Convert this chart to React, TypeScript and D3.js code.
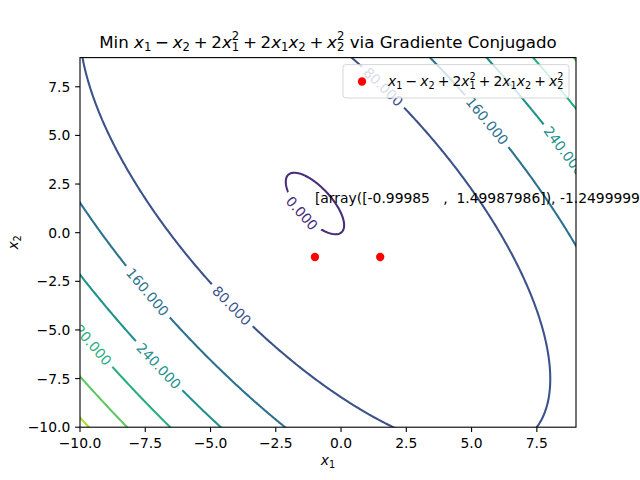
import React, { useMemo } from 'react';
import * as d3 from 'd3';

// ---------- data ----------
const X_DOMAIN: [number, number] = [-10, 9];
const Y_DOMAIN: [number, number] = [-10, 9];
const LEVELS = [0, 80, 160, 240, 320, 400, 480];
const COLOR_DOMAIN: [number, number] = [-80, 560];
const X_TICKS = [-10, -7.5, -5, -2.5, 0, 2.5, 5, 7.5];
const Y_TICKS = [-10, -7.5, -5, -2.5, 0, 2.5, 5, 7.5];
const OPT_X = [-0.99985, 1.49987986];
const OPT_Y = [-1.2499999, -1.2499999];
const ANNOT_X = -0.99985;
const ANNOT_Y = 1.49987986;
const ANNOTATION = '[array([-0.99985   ,  1.49987986]), -1.2499999999999996]';
const LABEL_LEVELS = [0, 80, 80, 160, 160, 240, 240, 320];
const LABEL_X = [-1.46, 1.68, -4.14, 5.59, -7.32, 8.58, -7.01, -9.7];
const LABEL_Y = [1.06, 7.59, -3.72, 5.74, -2.95, 4.2, -6.9, -5.67];

const objective = (x1: number, x2: number) => x1 - x2 + 2 * x1 * x1 + 2 * x1 * x2 + x2 * x2;

// ---------- layout ----------
const W = 640, H = 480;
const L = 80, R = 576, T = 57.6, B = 427.2;
const FS = 13.89;
const FONT = 'DejaVu Sans';

type Seg = { t?: string; it?: boolean; sub?: string; sup?: string; op?: string };

const FORMULA: Seg[] = [
  { t: 'x', it: true, sub: '1' },
  { op: '−' },
  { t: 'x', it: true, sub: '2' },
  { op: '+' },
  { t: '2' },
  { t: 'x', it: true, sub: '1', sup: '2' },
  { op: '+' },
  { t: '2' },
  { t: 'x', it: true, sub: '1' },
  { t: 'x', it: true, sub: '2' },
  { op: '+' },
  { t: 'x', it: true, sub: '2', sup: '2' },
];

function mathTspans(segs: Seg[], fs: number, keyp: string) {
  const out: React.ReactNode[] = [];
  let shift = 0;
  let pendingDx = 0;
  const ms = 0.222 * fs;
  segs.forEach((s, i) => {
    if (s.op) {
      out.push(
        <tspan key={`${keyp}o${i}`} dx={ms + pendingDx} dy={-shift} fontStyle="normal" fontSize={fs}>
          {s.op}
        </tspan>
      );
      shift = 0;
      pendingDx = ms;
      return;
    }
    out.push(
      <tspan key={`${keyp}b${i}`} dx={pendingDx} dy={-shift} fontStyle={s.it ? 'italic' : 'normal'} fontSize={fs}>
        {s.t}
      </tspan>
    );
    pendingDx = 0;
    shift = 0;
    if (s.sub) {
      const d = 0.2 * fs;
      out.push(
        <tspan key={`${keyp}s${i}`} dy={d - shift} fontSize={0.7 * fs} fontStyle="normal">
          {s.sub}
        </tspan>
      );
      shift = d;
    }
    if (s.sup) {
      const d = -0.42 * fs;
      const back = s.sub ? -0.636 * 0.7 * fs * s.sub.length : 0;
      out.push(
        <tspan key={`${keyp}p${i}`} dx={back} dy={d - shift} fontSize={0.7 * fs} fontStyle="normal">
          {s.sup}
        </tspan>
      );
      shift = d;
    }
  });
  return { nodes: out, shift };
}

export default function App() {
  const sx = d3.scaleLinear().domain(X_DOMAIN).range([L, R]);
  const sy = d3.scaleLinear().domain(Y_DOMAIN).range([B, T]);
  const color = (v: number) => d3.interpolateViridis((v - COLOR_DOMAIN[0]) / (COLOR_DOMAIN[1] - COLOR_DOMAIN[0]));

  const { paths, labels } = useMemo(() => {
    const step = 0.05;
    const x0 = X_DOMAIN[0] - 0.25;
    const y0 = Y_DOMAIN[0] - 0.25;
    const n = Math.round((X_DOMAIN[1] + 0.25 - x0) / step) + 1;
    const m = Math.round((Y_DOMAIN[1] + 0.25 - y0) / step) + 1;
    const values = new Array(n * m);
    for (let j = 0; j < m; j++) {
      for (let i = 0; i < n; i++) {
        values[j * n + i] = objective(x0 + i * step, y0 + j * step);
      }
    }
    const contours = d3.contours().size([n, m]).thresholds(LEVELS)(values);
    const toPx = (c: number[]) => [sx(x0 + (c[0] - 0.5) * step), sy(y0 + (c[1] - 0.5) * step)];
    const proj = d3.geoTransform({
      point(x: number, y: number) {
        const p = toPx([x, y]);
        (this as any).stream.point(p[0], p[1]);
      },
    });
    const gp = d3.geoPath(proj);
    const ringsByLevel = new Map<number, number[][][]>();
    const paths = contours.map((c) => {
      const rings: number[][][] = [];
      c.coordinates.forEach((poly) => poly.forEach((ring) => rings.push(ring.map(toPx))));
      ringsByLevel.set(c.value, rings);
      return { level: c.value, d: gp(c as any) || '' };
    });

    const labels = LABEL_LEVELS.map((lev, k) => {
      const ax = sx(LABEL_X[k]);
      const ay = sy(LABEL_Y[k]);
      const rings = ringsByLevel.get(lev) || [];
      let best = { d: Infinity, r: -1, i: -1 };
      rings.forEach((ring, r) => {
        ring.forEach((p, i) => {
          if (p[0] < L - 30 || p[0] > R + 30 || p[1] < T - 30 || p[1] > B + 30) return;
          const d = (p[0] - ax) ** 2 + (p[1] - ay) ** 2;
          if (d < best.d) best = { d, r, i };
        });
      });
      const ring = rings[best.r];
      const len = ring.length - 1;
      const p = ring[best.i];
      let a = best.i, b = best.i;
      for (let s = 0; s < len; s++) {
        a = (a - 1 + len) % len;
        const q = ring[a];
        if (Math.hypot(q[0] - p[0], q[1] - p[1]) > 10) break;
      }
      for (let s = 0; s < len; s++) {
        b = (b + 1) % len;
        const q = ring[b];
        if (Math.hypot(q[0] - p[0], q[1] - p[1]) > 10) break;
      }
      let ang = (Math.atan2(ring[b][1] - ring[a][1], ring[b][0] - ring[a][0]) * 180) / Math.PI;
      if (ang > 90) ang -= 180;
      if (ang <= -90) ang += 180;
      const text = d3.format('.3f')(lev);
      const digits = text.replace(/[^0-9]/g, '').length;
      const w = FS * (0.636 * digits + 0.318);
      return { lev, x: p[0], y: p[1], ang, text, w };
    });
    return { paths, labels };
  }, []);

  const tickFmt = d3.format('.1f');
  const title = mathTspans(FORMULA, 16.67, 'ti');

  return (
    <svg width={W} height={H} style={{ position: 'absolute', left: 0, top: 0, background: '#fff' }} fontFamily={FONT}>
      <defs>
        <clipPath id="axclip">
          <rect x={L} y={T} width={R - L} height={B - T} />
        </clipPath>
        <mask id="labelgap" maskUnits="userSpaceOnUse" x={0} y={0} width={W} height={H}>
          <rect x={0} y={0} width={W} height={H} fill="#fff" />
          {labels.map((lb, i) => (
            <rect
              key={i}
              x={-(lb.w + 10) / 2}
              y={-8}
              width={lb.w + 10}
              height={16}
              fill="#000"
              transform={`translate(${lb.x},${lb.y}) rotate(${lb.ang})`}
            />
          ))}
        </mask>
      </defs>
      <rect x={0} y={0} width={W} height={H} fill="#fff" />

      <g clipPath="url(#axclip)">
        <g mask="url(#labelgap)">
          {paths.map((p, i) => (
            <path key={i} d={p.d} fill="none" stroke={color(p.level)} strokeWidth={2.08} strokeLinejoin="round" />
          ))}
        </g>
        {labels.map((lb, i) => (
          <text
            key={i}
            transform={`translate(${lb.x},${lb.y}) rotate(${lb.ang})`}
            textAnchor="middle"
            dy="0.36em"
            fontSize={FS}
            fill={color(lb.lev)}
          >
            {lb.text}
          </text>
        ))}
        {OPT_X.map((x, i) => (
          <circle key={i} cx={sx(x)} cy={sy(OPT_Y[i])} r={4.17} fill="#ff0000" />
        ))}
      </g>

      <text x={sx(ANNOT_X)} y={sy(ANNOT_Y)} fontSize={FS} fill="#000" style={{ whiteSpace: 'pre' }}>
        {ANNOTATION}
      </text>

      {/* spines */}
      <rect x={L} y={T} width={R - L} height={B - T} fill="none" stroke="#000" strokeWidth={1.1} />

      {/* x axis */}
      {X_TICKS.map((t, i) => (
        <g key={i}>
          <line x1={sx(t)} x2={sx(t)} y1={B} y2={B + 4.86} stroke="#000" strokeWidth={1.1} />
          <text x={sx(t)} y={B + 20.3} textAnchor="middle" fontSize={FS} fill="#000">
            {tickFmt(t)}
          </text>
        </g>
      ))}
      {/* y axis */}
      {Y_TICKS.map((t, i) => (
        <g key={i}>
          <line x1={L - 4.86} x2={L} y1={sy(t)} y2={sy(t)} stroke="#000" strokeWidth={1.1} />
          <text x={L - 9.72} y={sy(t)} dy="0.36em" textAnchor="end" fontSize={FS} fill="#000">
            {tickFmt(t)}
          </text>
        </g>
      ))}

      {/* axis labels */}
      <text x={(L + R) / 2} y={465} textAnchor="middle" fill="#000">
        {mathTspans([{ t: 'x', it: true, sub: '1' }], FS, 'xl').nodes}
      </text>
      <text transform={`translate(18,${(T + B) / 2}) rotate(-90)`} textAnchor="middle" fill="#000">
        {mathTspans([{ t: 'x', it: true, sub: '2' }], FS, 'yl').nodes}
      </text>

      {/* title */}
      <text x={(L + R) / 2} y={47.5} textAnchor="middle" fill="#000">
        <tspan fontSize={16.67}>Min </tspan>
        {title.nodes}
        <tspan fontSize={16.67} dy={-title.shift}> via Gradiente Conjugado</tspan>
      </text>

      {/* legend */}
      <rect x={343} y={64.6} width={226} height={33.4} rx={2.8} fill="#fff" fillOpacity={0.8} stroke="#cccccc" strokeOpacity={0.8} strokeWidth={1} />
      <circle cx={362} cy={81.5} r={4.17} fill="#ff0000" />
      <text x={388} y={86} fill="#000">
        {mathTspans(FORMULA, FS, 'lg').nodes}
      </text>
    </svg>
  );
}
